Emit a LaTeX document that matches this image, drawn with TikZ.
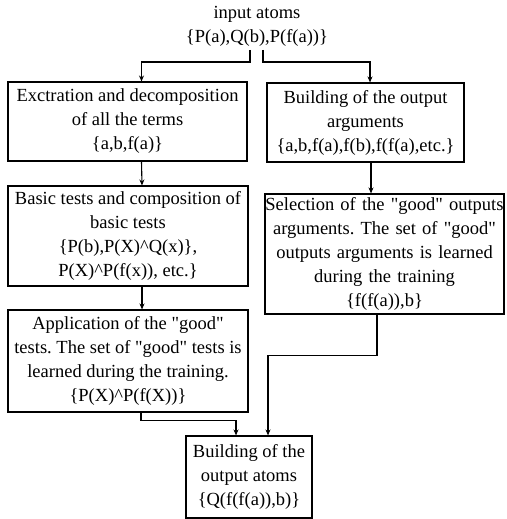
\documentclass[tikz,border=0pt]{standalone}
\usepackage{fontspec}
\setmainfont{Liberation Serif}[Ligatures=TeXOff]
\usetikzlibrary{arrows.meta, positioning}
\frenchspacing

\begin{document}
\begin{tikzpicture}[x=1pt,y=-1pt,
  box/.style={draw,line width=1.1pt,align=center,inner sep=0pt,
    font=\fontsize{18.5}{24}\selectfont},
  link/.style={line width=1.1pt,-{Stealth[length=6pt,width=5pt]}}]
\useasboundingbox (0,0) rectangle (506,519);
% input
\node[align=center,font=\fontsize{18.5}{24}\selectfont] (input) at (257,26)
  {input atoms\\\{P(a),Q(b),P(f(a))\}};
% left column
\node[box,minimum width=239pt,minimum height=79pt] (extract) at (127.5,121.5)
  {Exctration and decomposition\\of all the terms\\\{a,b,f(a)\}};
\node[box,minimum width=240pt,minimum height=100pt] (basic) at (128,236)
  {Basic tests and composition of\\basic tests\\\{P(b),P(X)\textasciicircum Q(x)\},\\P(X)\textasciicircum P(f(x)), etc.\}};
\node[box,minimum width=240pt,minimum height=102pt] (apply) at (128,361)
  {Application of the "good"\\tests. The set of "good" tests is\\learned during the training.\\\{P(X)\textasciicircum P(f(X))\}};
% right column
\node[box,minimum width=197pt,minimum height=79pt] (outargs) at (365.5,122.5)
  {Building of the output\\arguments\\\{a,b,f(a),f(b),f(f(a),etc.\}};
\node[box,text width=239pt,minimum height=120pt] (select) at (384.5,254)
  {\mbox{Selection of the "good" outputs}\\arguments. The set of "good"\\outputs arguments is learned\\during the training\\\{f(f(a)),b\}};
% output
\node[box,minimum width=126pt,minimum height=82pt] (outatoms) at (249,477)
  {Building of the\\output atoms\\\{Q(f(f(a)),b)\}};

\coordinate (inL) at (250,50);
\coordinate (inR) at (263,50);
\draw[link] (inL) -- ++(0,12) -| ([xshift=14pt]extract.north);
\draw[link] (inR) -- ++(0,12) -| ([xshift=4.5pt]outargs.north);
\draw[link] ([xshift=14pt]extract.south) -- ([xshift=14pt]basic.north);
\draw[link] ([xshift=14pt]basic.south) -- ([xshift=14pt]apply.north);
\draw[link] ([xshift=5.5pt]outargs.south) -- ([xshift=-13.5pt]select.north);
\draw[link] ([xshift=-7.5pt]select.south) -- ++(0,41) -| ([xshift=19pt]outatoms.north);
\draw[link] ([xshift=13pt]apply.south) -- ++(0,8) -| ([xshift=-13pt]outatoms.north);
\end{tikzpicture}
\end{document}
